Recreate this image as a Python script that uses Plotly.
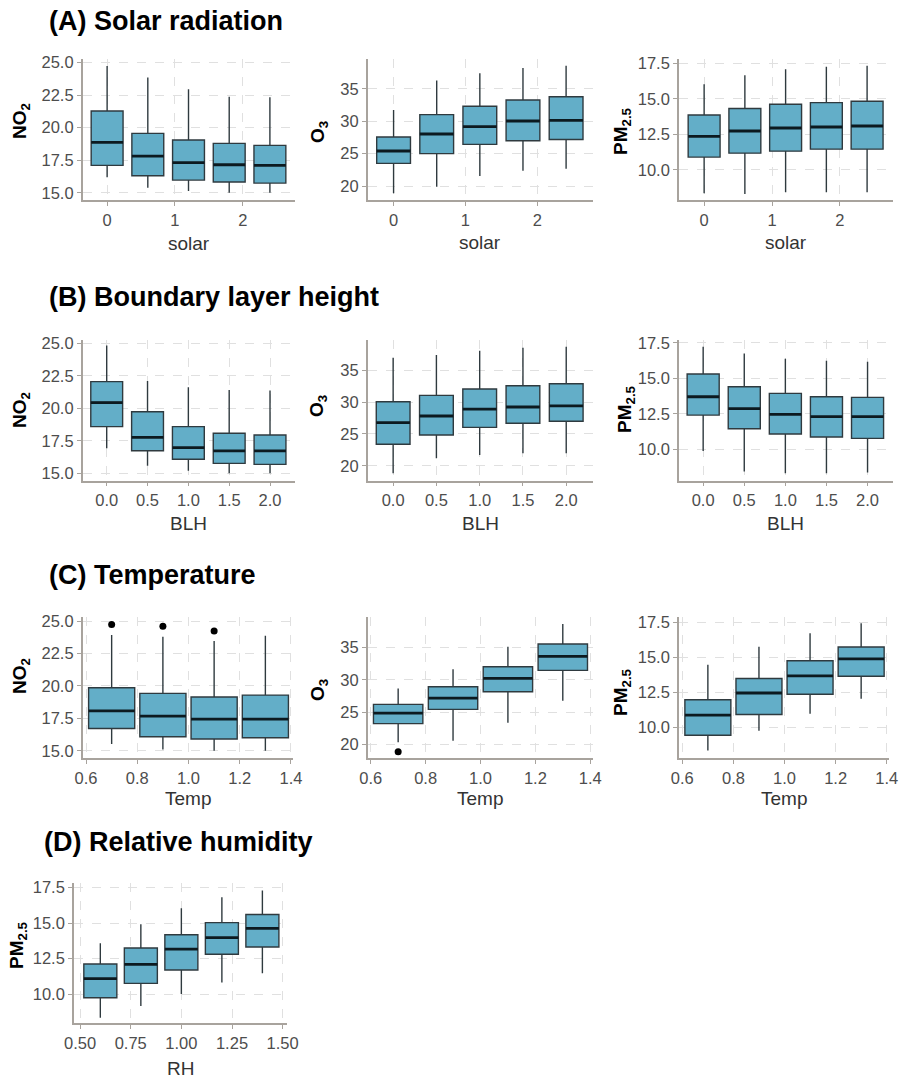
import plotly.graph_objects as go

W, H = 902, 1080

# ---------------- data ----------------
solar_x = [0, 0.6, 1.2, 1.8, 2.4]
blh_x = [0.0, 0.5, 1.0, 1.5, 2.0]
temp_x = [0.7, 0.9, 1.1, 1.3]
rh_x = [0.6, 0.8, 1.0, 1.2, 1.4]

# (A) Solar radiation
solar_no2_lo = [16.18, 15.38, 15.13, 15.00, 15.00]
solar_no2_q1 = [17.10, 16.31, 15.97, 15.82, 15.74]
solar_no2_med = [18.87, 17.82, 17.31, 17.15, 17.10]
solar_no2_q3 = [21.28, 19.56, 19.05, 18.79, 18.64]
solar_no2_hi = [24.74, 23.85, 22.95, 22.38, 22.33]

solar_o3_lo = [18.87, 19.90, 21.55, 22.37, 22.68]
solar_o3_q1 = [23.50, 25.00, 26.44, 27.00, 27.20]
solar_o3_med = [25.41, 28.04, 29.18, 30.05, 30.15]
solar_o3_q3 = [27.58, 31.03, 32.32, 33.30, 33.80]
solar_o3_hi = [31.75, 36.29, 37.42, 38.25, 38.60]

solar_pm_lo = [8.35, 8.30, 8.42, 8.42, 8.42]
solar_pm_q1 = [10.90, 11.18, 11.32, 11.46, 11.46]
solar_pm_med = [12.36, 12.74, 12.95, 13.02, 13.09]
solar_pm_q3 = [13.87, 14.32, 14.62, 14.74, 14.83]
solar_pm_hi = [16.04, 16.67, 17.08, 17.26, 17.33]

# (B) Boundary layer height
blh_no2_lo = [16.92, 15.59, 15.20, 15.00, 15.00]
blh_no2_q1 = [18.59, 16.74, 16.08, 15.77, 15.69]
blh_no2_med = [20.44, 17.77, 16.97, 16.72, 16.72]
blh_no2_q3 = [22.05, 19.74, 18.59, 18.08, 17.95]
blh_no2_hi = [24.82, 22.10, 21.62, 21.41, 21.36]

blh_o3_lo = [18.85, 21.20, 21.72, 21.98, 21.98]
blh_o3_q1 = [23.39, 24.84, 26.04, 26.67, 26.98]
blh_o3_med = [26.77, 27.81, 28.90, 29.22, 29.38]
blh_o3_q3 = [30.05, 31.04, 32.03, 32.55, 32.86]
blh_o3_hi = [36.93, 37.34, 38.02, 38.49, 38.65]

blh_pm_lo = [9.88, 8.43, 8.31, 8.31, 8.36]
blh_pm_q1 = [12.41, 11.45, 11.08, 10.87, 10.77]
blh_pm_med = [13.70, 12.86, 12.46, 12.30, 12.30]
blh_pm_q3 = [15.30, 14.41, 13.94, 13.70, 13.66]
blh_pm_hi = [17.22, 16.75, 16.38, 16.23, 16.16]

# (C) Temperature
temp_no2_lo = [15.51, 15.10, 15.00, 15.00]
temp_no2_q1 = [16.72, 16.08, 15.90, 16.00]
temp_no2_med = [18.08, 17.67, 17.44, 17.44]
temp_no2_q3 = [19.86, 19.42, 19.14, 19.29]
temp_no2_hi = [23.92, 23.79, 23.46, 23.87]
temp_no2_out_x = [0.7, 0.9, 1.1]
temp_no2_out_y = [24.74, 24.59, 24.23]

temp_o3_lo = [20.36, 20.62, 23.39, 26.78]
temp_o3_q1 = [23.24, 25.45, 28.17, 31.46]
temp_o3_med = [24.88, 27.19, 30.22, 33.61]
temp_o3_q3 = [26.22, 28.94, 32.02, 35.51]
temp_o3_hi = [28.68, 31.61, 35.10, 38.60]
temp_o3_out_x = [0.7]
temp_o3_out_y = [18.92]

temp_pm_lo = [8.32, 9.74, 10.96, 12.04]
temp_pm_q1 = [9.42, 10.91, 12.36, 13.65]
temp_pm_med = [10.87, 12.45, 13.68, 14.90]
temp_pm_q3 = [11.97, 13.49, 14.76, 15.75]
temp_pm_hi = [14.47, 15.77, 16.73, 17.45]

# (D) Relative humidity
rh_pm_lo = [8.33, 9.15, 10.00, 10.82, 11.46]
rh_pm_q1 = [9.74, 10.75, 11.69, 12.80, 13.31]
rh_pm_med = [11.08, 12.09, 13.17, 13.97, 14.63]
rh_pm_q3 = [12.12, 13.24, 14.18, 15.03, 15.60]
rh_pm_hi = [13.57, 14.91, 16.04, 16.82, 17.29]

# tick values / labels
solar_ticks = [0, 1, 2]
solar_labels = ["0", "1", "2"]
blh_ticks = [0.0, 0.5, 1.0, 1.5, 2.0]
blh_labels = ["0.0", "0.5", "1.0", "1.5", "2.0"]
temp_ticks = [0.6, 0.8, 1.0, 1.2, 1.4]
temp_labels = ["0.6", "0.8", "1.0", "1.2", "1.4"]
rh_ticks = [0.5, 0.75, 1.0, 1.25, 1.5]
rh_labels = ["0.50", "0.75", "1.00", "1.25", "1.50"]
no2_ticks = [15, 17.5, 20, 22.5, 25]
no2_labels = ["15.0", "17.5", "20.0", "22.5", "25.0"]
o3_ticks = [20, 25, 30, 35]
o3_labels = ["20", "25", "30", "35"]
pm_ticks = [10, 12.5, 15, 17.5]
pm_labels = ["10.0", "12.5", "15.0", "17.5"]

panel_titles = ["(A) Solar radiation", "(B) Boundary layer height",
                "(C) Temperature", "(D) Relative humidity"]

NO2_T = "<b>NO<sub>2</sub></b>"
O3_T = "<b>O<sub>3</sub></b>"
PM_T = "<b>PM<sub>2.5</sub></b>"

# ---------------- style ----------------
FILL = "#63AEC8"
EDGE = "#2f3a3f"
MED = "#0c1a20"
AXC = "#a8a39d"
GRID = "#e0e0e0"
TICKC = "#4d4d4d"
FONT = "Liberation Sans, Arial, sans-serif"

panels = [
    (solar_x, (solar_no2_lo, solar_no2_q1, solar_no2_med, solar_no2_q3, solar_no2_hi), None, 0.47,
     (82.7, 295, 59, 200), [-0.36, 2.77], [14.44, 25.28], (solar_ticks, solar_labels), (no2_ticks, no2_labels),
     NO2_T, "solar", (21, 121), 44),
    (solar_x, (solar_o3_lo, solar_o3_q1, solar_o3_med, solar_o3_q3, solar_o3_hi), None, 0.47,
     (367.7, 592.7, 59, 200), [-0.36, 2.77], [17.84, 39.63], (solar_ticks, solar_labels), (o3_ticks, o3_labels),
     O3_T, "solar", (319, 132), 43),
    (solar_x, (solar_pm_lo, solar_pm_q1, solar_pm_med, solar_pm_q3, solar_pm_hi), None, 0.47,
     (679, 892.7, 59, 200), [-0.37, 2.777], [7.88, 17.81], (solar_ticks, solar_labels), (pm_ticks, pm_labels),
     PM_T, "solar", (622, 131), 43),
    (blh_x, (blh_no2_lo, blh_no2_q1, blh_no2_med, blh_no2_q3, blh_no2_hi), None, 0.39,
     (82.7, 295, 340, 480.5), [-0.294, 2.306], [14.45, 25.25], (blh_ticks, blh_labels), (no2_ticks, no2_labels),
     NO2_T, "BLH", (21, 410), 43),
    (blh_x, (blh_o3_lo, blh_o3_q1, blh_o3_med, blh_o3_q3, blh_o3_hi), None, 0.39,
     (367.7, 592.7, 340, 480.5), [-0.294, 2.306], [17.73, 39.69], (blh_ticks, blh_labels), (o3_ticks, o3_labels),
     O3_T, "BLH", (318, 406), 43),
    (blh_x, (blh_pm_lo, blh_pm_q1, blh_pm_med, blh_pm_q3, blh_pm_hi), None, 0.39,
     (679, 892.7, 340, 480.5), [-0.294, 2.306], [7.80, 17.70], (blh_ticks, blh_labels), (pm_ticks, pm_labels),
     PM_T, "BLH", (626, 409), 43),
    (temp_x, (temp_no2_lo, temp_no2_q1, temp_no2_med, temp_no2_q3, temp_no2_hi), (temp_no2_out_x, temp_no2_out_y), 0.18,
     (82.7, 293.3, 617, 758), [0.587, 1.409], [14.44, 25.31], (temp_ticks, temp_labels), (no2_ticks, no2_labels),
     NO2_T, "Temp", (21, 676), 40),
    (temp_x, (temp_o3_lo, temp_o3_q1, temp_o3_med, temp_o3_q3, temp_o3_hi), (temp_o3_out_x, temp_o3_out_y), 0.18,
     (367.7, 592.7, 617, 758), [0.589, 1.409], [17.95, 39.68], (temp_ticks, temp_labels), (o3_ticks, o3_labels),
     O3_T, "Temp", (319, 690), 40),
    (temp_x, (temp_pm_lo, temp_pm_q1, temp_pm_med, temp_pm_q3, temp_pm_hi), None, 0.18,
     (679, 889, 617, 758), [0.587, 1.409], [7.79, 17.90], (temp_ticks, temp_labels), (pm_ticks, pm_labels),
     PM_T, "Temp", (622, 692), 40),
    (rh_x, (rh_pm_lo, rh_pm_q1, rh_pm_med, rh_pm_q3, rh_pm_hi), None, 0.163,
     (74, 286.7, 883, 1023.3), [0.47, 1.52], [7.94, 17.82], (rh_ticks, rh_labels), (pm_ticks, pm_labels),
     PM_T, "RH", (18, 945), 45),
]

title_pos = [(47, 21), (47, 297), (47, 575), (42, 842)]


def px(v):
    return v / W


def py(v):
    return 1 - v / H


fig = go.Figure()
annotations = []
layout = dict(
    width=W, height=H, margin=dict(l=0, r=0, t=0, b=0),
    paper_bgcolor="white", plot_bgcolor="white", showlegend=False,
    font=dict(family=FONT, color=TICKC),
)

for i, p in enumerate(panels, start=1):
    (xs, (lo, q1, med, q3, hi), outl, bw, (x0, x1, y0, y1), xr, yr, (xt, xl), (yt, yl),
     ytit, xtit, (tx, ty), xoff) = p
    xa = "x" if i == 1 else f"x{i}"
    ya = "y" if i == 1 else f"y{i}"
    fig.add_trace(go.Box(
        x=xs, q1=q1, median=med, q3=q3, lowerfence=lo, upperfence=hi,
        width=bw, whiskerwidth=0, boxpoints=False,
        fillcolor=FILL, line=dict(color=EDGE, width=1.4),
        xaxis=xa, yaxis=ya, hoverinfo="skip",
    ))
    mx, my = [], []
    for xv, mv in zip(xs, med):
        mx += [xv - bw / 2, xv + bw / 2, None]
        my += [mv, mv, None]
    fig.add_trace(go.Scatter(x=mx, y=my, mode="lines", line=dict(color=MED, width=2.8),
                             xaxis=xa, yaxis=ya, hoverinfo="skip"))
    if outl is not None:
        fig.add_trace(go.Scatter(x=outl[0], y=outl[1], mode="markers",
                                 marker=dict(color="black", size=7),
                                 xaxis=xa, yaxis=ya, hoverinfo="skip"))
    common = dict(showline=True, linecolor=AXC, linewidth=1.6, ticks="outside", ticklen=4,
                  tickwidth=1.2, tickcolor=AXC, showgrid=True, gridcolor=GRID, griddash="dash",
                  gridwidth=1, zeroline=False, tickfont=dict(size=16.5, color=TICKC, family=FONT),
                  automargin=False, fixedrange=True)
    layout["xaxis" if i == 1 else f"xaxis{i}"] = dict(
        domain=[px(x0), px(x1)], anchor=ya, range=xr, tickmode="array", tickvals=xt, ticktext=xl, **common)
    layout["yaxis" if i == 1 else f"yaxis{i}"] = dict(
        domain=[py(y1), py(y0)], anchor=xa, range=yr, tickmode="array", tickvals=yt, ticktext=yl, **common)
    annotations.append(dict(text=ytit, x=px(tx), y=py(ty), xref="paper", yref="paper",
                            showarrow=False, textangle=-90, xanchor="center", yanchor="middle",
                            font=dict(size=19, color="black", family=FONT)))
    annotations.append(dict(text=xtit, x=px((x0 + x1) / 2), y=py(y1 + xoff), xref="paper", yref="paper",
                            showarrow=False, xanchor="center", yanchor="middle",
                            font=dict(size=19, color="#333333", family=FONT)))

for t, (tx, ty) in zip(panel_titles, title_pos):
    annotations.append(dict(text=f"<b>{t}</b>", x=px(tx), y=py(ty), xref="paper", yref="paper",
                            showarrow=False, xanchor="left", yanchor="middle",
                            font=dict(size=27, color="black", family=FONT)))

layout["annotations"] = annotations
fig.update_layout(**layout)
fig.write_html("out.html")
